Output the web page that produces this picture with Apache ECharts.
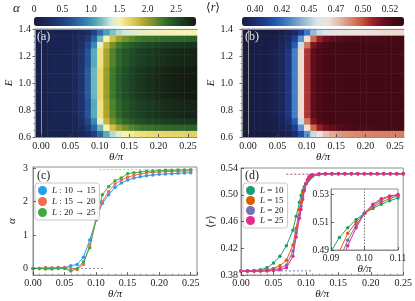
<!DOCTYPE html>
<html><head><meta charset="utf-8">
<script src="https://cdn.jsdelivr.net/npm/echarts@6/dist/echarts.min.js"></script>
<style>html,body{margin:0;padding:0;background:#fff}#c{width:415px;height:301px}</style>
</head><body><div id="c"></div>
<script>
const FONT = 'Liberation Serif, DejaVu Serif, serif';
const AX = '#8e8e8e', TXT = '#1a1a1a';

// ---------- heatmap grid ----------
const thetaCols = [0,0.01,0.02,0.03,0.04,0.05,0.06,0.07,0.08,0.09,0.10,0.11,0.12,0.13,0.14,0.15,0.16,0.17,0.18,0.19,0.20,0.21,0.22,0.23,0.24,0.25];
const energyRows = [0.624,0.671,0.718,0.765,0.812,0.859,0.906,0.953,1.000,1.047,1.094,1.141,1.188,1.235,1.282,1.329,1.376];

// alpha map row profiles (values along theta)
const alphaRowBottom = [0.06,0.10,0.11,0.12,0.12,0.13,0.15,0.20,0.30,0.50,0.80,1.10,1.30,1.42,1.50,1.55,1.60,1.62,1.64,1.65,1.66,1.67,1.68,1.68,1.70,1.70];
const alphaRowEdge   = [0.08,0.12,0.13,0.14,0.14,0.15,0.18,0.25,0.42,0.75,1.15,1.50,1.80,1.98,2.10,2.18,2.24,2.28,2.30,2.32,2.34,2.35,2.36,2.37,2.38,2.38];
const alphaRowNear   = [0.08,0.12,0.14,0.15,0.15,0.16,0.20,0.30,0.55,0.95,1.45,1.85,2.10,2.25,2.35,2.42,2.48,2.52,2.55,2.58,2.60,2.62,2.64,2.65,2.66,2.67];
const alphaRowInner  = [0.08,0.12,0.14,0.15,0.15,0.17,0.21,0.34,0.65,1.10,1.60,1.95,2.20,2.35,2.45,2.52,2.57,2.61,2.64,2.67,2.70,2.72,2.74,2.76,2.77,2.78];
const alphaRowCenter = [0.08,0.12,0.14,0.15,0.15,0.17,0.22,0.36,0.70,1.15,1.65,2.00,2.25,2.40,2.50,2.57,2.63,2.67,2.71,2.74,2.77,2.79,2.81,2.83,2.84,2.85];
const alphaRowTop    = [0.06,0.10,0.11,0.12,0.12,0.13,0.15,0.20,0.30,0.50,0.80,1.05,1.20,1.30,1.36,1.40,1.42,1.44,1.45,1.46,1.47,1.48,1.48,1.49,1.50,1.50];
const alphaRows = [alphaRowBottom, alphaRowEdge, alphaRowNear, alphaRowInner, alphaRowInner, alphaRowInner,
  alphaRowCenter, alphaRowCenter, alphaRowCenter, alphaRowCenter, alphaRowCenter,
  alphaRowInner, alphaRowInner, alphaRowInner, alphaRowNear, alphaRowEdge, alphaRowTop];

// <r> map row profiles
const rRowBottom = [0.386,0.387,0.387,0.388,0.388,0.389,0.390,0.393,0.400,0.415,0.435,0.455,0.468,0.476,0.481,0.484,0.486,0.487,0.488,0.489,0.489,0.490,0.490,0.490,0.490,0.490];
const rRowEdge   = [0.387,0.388,0.388,0.389,0.389,0.390,0.392,0.397,0.410,0.435,0.468,0.495,0.510,0.518,0.522,0.525,0.527,0.528,0.528,0.529,0.529,0.529,0.530,0.530,0.530,0.530];
const rRowNear   = [0.387,0.388,0.389,0.389,0.390,0.391,0.394,0.401,0.420,0.455,0.492,0.515,0.525,0.529,0.530,0.531,0.531,0.531,0.531,0.531,0.531,0.531,0.531,0.531,0.531,0.531];
const rRowMid    = [0.387,0.388,0.389,0.389,0.390,0.392,0.396,0.405,0.430,0.470,0.505,0.522,0.528,0.530,0.531,0.531,0.531,0.531,0.531,0.531,0.531,0.531,0.531,0.531,0.531,0.531];
const rRowTop    = [0.386,0.387,0.387,0.388,0.388,0.389,0.390,0.392,0.397,0.410,0.428,0.445,0.455,0.460,0.463,0.465,0.466,0.467,0.468,0.468,0.469,0.469,0.470,0.470,0.470,0.470];
const rRows = [rRowBottom, rRowEdge, rRowNear, rRowMid, rRowMid, rRowMid, rRowMid, rRowMid, rRowMid,
  rRowMid, rRowMid, rRowMid, rRowMid, rRowMid, rRowNear, rRowEdge, rRowTop];

// colour maps
const alphaColors = ['#151c40','#182452','#1c2e66','#203a7c','#244a92','#2a62a4','#3380b0','#46a0b8','#7cc2c4','#cfe9e0',
  '#fbf2b0','#ecd970','#d0bf46','#a8a42e','#789228','#3f7a2a','#275e2a','#1d4624','#18301c','#131a10'];
const rColors = ['#181c43','#1b2a66','#1c3b8c','#1f56b0','#3a78c2','#6c9ecd','#a8c4dc','#dde5ec','#efe2dc','#e6b8a6',
  '#d98a6e','#c95b40','#a02428','#6e0e1e','#4a0a16','#330710'];

// ---------- panel (c) ----------
const thetaC = [0,0.01,0.02,0.03,0.04,0.05,0.06,0.07,0.08,0.09,0.10,0.11,0.12,0.13,0.14,0.15,0.16,0.17,0.18,0.19,0.20,0.21,0.22,0.23,0.24,0.25];
const alphaL10to15 = [0.00,0.00,0.00,0.00,0.02,0.02,0.08,0.12,0.33,0.85,1.45,1.95,2.20,2.42,2.55,2.64,2.70,2.74,2.77,2.79,2.81,2.82,2.83,2.84,2.85,2.86];
const alphaL15to20 = [0.00,0.00,0.03,0.02,0.03,0.03,0.00,-0.03,0.12,0.70,1.45,2.00,2.30,2.52,2.64,2.72,2.78,2.82,2.85,2.87,2.88,2.89,2.90,2.90,2.91,2.91];
const alphaL20to25 = [0.00,0.00,-0.02,-0.02,0.00,0.00,-0.08,0.00,0.20,0.62,1.45,2.20,2.45,2.62,2.70,2.83,2.86,2.88,2.90,2.91,2.92,2.93,2.93,2.94,2.94,2.95];
const cNames = ['L : 10 → 15','L : 15 → 20','L : 20 → 25'];
const cColors = ['#2a9cf0','#f26d4f','#43a843'];
const cRefLow = [[0,0],[0.11,0]];
const cRefHigh = [[0.105,2.95],[0.26,2.95]];

// ---------- panel (d) ----------
const thetaD = [0,0.01,0.02,0.03,0.04,0.05,0.06,0.07,0.08,0.085,0.09,0.0925,0.095,0.0975,0.10,0.1025,0.105,0.1075,0.11,
  0.12,0.13,0.14,0.15,0.16,0.17,0.18,0.19,0.20,0.21,0.22,0.23,0.24,0.25];
const rL10 = [0.386,0.386,0.387,0.388,0.391,0.398,0.408,0.424,0.447,0.468,0.489,0.499,0.506,0.512,0.5165,0.520,0.523,0.5255,0.5275,
  0.530,0.531,0.531,0.5315,0.5315,0.5315,0.5315,0.5315,0.5315,0.5315,0.5315,0.5315,0.5315,0.5315];
const rL15 = [0.386,0.386,0.386,0.387,0.388,0.390,0.394,0.402,0.425,0.450,0.478,0.489,0.502,0.510,0.5165,0.521,0.5245,0.527,0.529,
  0.531,0.5315,0.5315,0.5315,0.5315,0.5315,0.5315,0.5315,0.5315,0.5315,0.5315,0.5315,0.5315,0.5315];
const rL20 = [0.386,0.386,0.386,0.386,0.387,0.388,0.390,0.395,0.416,0.443,0.470,0.483,0.497,0.508,0.5165,0.522,0.526,0.5285,0.5295,
  0.531,0.5315,0.5315,0.5315,0.5315,0.5315,0.5315,0.5315,0.5315,0.5315,0.5315,0.5315,0.5315,0.5315];
const rL25 = [0.386,0.386,0.386,0.386,0.386,0.387,0.388,0.391,0.408,0.437,0.465,0.478,0.493,0.506,0.5165,0.523,0.527,0.529,0.530,
  0.531,0.5315,0.5315,0.5315,0.5315,0.5315,0.5315,0.5315,0.5315,0.5315,0.5315,0.5315,0.5315,0.5315];
const dNames = ['L = 10','L = 15','L = 20','L = 25'];
const dColors = ['#1b9e77','#d95f02','#7570b3','#e7298a'];
const dRefLow = [[0,0.3863],[0.11,0.3863]];
const dRefHigh = [[0.07,0.5307],[0.25,0.5307]];
const insetMarkTheta = 0.10;

// ---------- ticks ----------
const thetaTickVals = [0,0.05,0.10,0.15,0.20,0.25];
const thetaTickLabels = ['0.00','0.05','0.10','0.15','0.20','0.25'];
const energyTickVals = [0.6,0.8,1.0,1.2,1.4];
const energyTickLabels = ['0.6','0.8','1.0','1.2','1.4'];
const alphaBarTickVals = [0,0.5,1.0,1.5,2.0,2.5];
const alphaBarTickLabels = ['0','0.5','1.0','1.5','2.0','2.5'];
const rBarTickVals = [0.40,0.425,0.45,0.475,0.50,0.525];
const rBarTickLabels = ['0.40','0.42','0.45','0.47','0.50','0.52'];
const alphaCTickVals = [0,1,2,3];
const alphaCTickLabels = ['0','1','2','3'];
const rDTickVals = [0.38,0.42,0.46,0.50,0.54];
const rDTickLabels = ['0.38','0.42','0.46','0.50','0.54'];
const insetXTickVals = [0.09,0.10,0.11];
const insetXTickLabels = ['0.09','0.10','0.11'];
const insetYTickVals = [0.49,0.51,0.53];
const insetYTickLabels = ['0.49','0.51','0.53'];

function lab(vals, labels) {
  return v => { const i = vals.findIndex(t => Math.abs(t - v) < 1e-6); return i >= 0 ? labels[i] : ''; };
}
function merge(a, b) {
  const o = Object.assign({}, a);
  for (const k in b) {
    if (b[k] && typeof b[k] === 'object' && !Array.isArray(b[k]) && typeof b[k] !== 'function' && a[k] && typeof a[k] === 'object') o[k] = merge(a[k], b[k]);
    else o[k] = b[k];
  }
  return o;
}
const baseVal = {
  type: 'value', splitLine: {show: false}, z: 5,
  axisLine: {show: true, onZero: false, lineStyle: {color: AX, width: 1}},
  axisTick: {show: true, inside: true, length: 3, lineStyle: {color: '#444', width: 0.8}},
  minorTick: {show: false},
  axisLabel: {fontFamily: FONT, fontSize: 10, color: TXT, margin: 3},
  nameLocation: 'middle',
  nameTextStyle: {fontFamily: FONT, fontSize: 11, fontStyle: 'italic', color: TXT}
};
function vAxis(o) { return merge(baseVal, o); }
function custom(vals, labels, extra) {
  return {axisLabel: Object.assign({customValues: vals, formatter: lab(vals, labels)}, extra || {}), axisTick: {customValues: vals}};
}
function catAxis(grid, pos, data) {
  return {type: 'category', gridIndex: grid, position: pos, data: data.map(String), z: 5,
    axisLabel: {show: false}, axisTick: {show: false}, splitLine: {show: false},
    axisLine: {show: true, lineStyle: {color: AX, width: 1}}};
}

function heatData(rows) {
  const out = [];
  rows.forEach((row, j) => row.forEach((v, i) => out.push([i, j, v])));
  return out;
}
function lineSeries(name, xs, ys, color, ax, size) {
  return {type: 'line', name, xAxisIndex: ax, yAxisIndex: ax, data: xs.map((t, i) => [t, ys[i]]),
    symbol: 'circle', symbolSize: size, showAllSymbol: true, clip: true,
    lineStyle: {width: 1, color}, itemStyle: {color}, emphasis: {disabled: true}, z: 3};
}
function refSeries(name, pts, color, ax) {
  return {type: 'line', name, xAxisIndex: ax, yAxisIndex: ax, data: pts, symbol: 'none', silent: true,
    lineStyle: {width: 1, color, type: [2, 2]}, z: 2};
}

const series = [
  {type: 'heatmap', name: 'alphaMap', xAxisIndex: 2, yAxisIndex: 2, data: heatData(alphaRows), progressive: 0, emphasis: {disabled: true}},
  {type: 'heatmap', name: 'rMap', xAxisIndex: 4, yAxisIndex: 4, data: heatData(rRows), progressive: 0, emphasis: {disabled: true}},
  lineSeries(cNames[0], thetaC, alphaL10to15, cColors[0], 6, 3.5),
  lineSeries(cNames[1], thetaC, alphaL15to20, cColors[1], 6, 3.5),
  lineSeries(cNames[2], thetaC, alphaL20to25, cColors[2], 6, 3.5),
  refSeries('cLow', cRefLow, '#7d8bb8', 6),
  refSeries('cHigh', cRefHigh, '#8fd08f', 6),
  lineSeries(dNames[0], thetaD, rL10, dColors[0], 7, 3.5),
  lineSeries(dNames[1], thetaD, rL15, dColors[1], 7, 3.5),
  lineSeries(dNames[2], thetaD, rL20, dColors[2], 7, 3.5),
  lineSeries(dNames[3], thetaD, rL25, dColors[3], 7, 3.5),
  refSeries('dLow', dRefLow, '#7f7fc8', 7),
  refSeries('dHigh', dRefHigh, '#9a4a72', 7),
  lineSeries(dNames[0], thetaD, rL10, dColors[0], 8, 3.5),
  lineSeries(dNames[1], thetaD, rL15, dColors[1], 8, 3.5),
  lineSeries(dNames[2], thetaD, rL20, dColors[2], 8, 3.5),
  lineSeries(dNames[3], thetaD, rL25, dColors[3], 8, 3.5)
];
series[13].markLine = {symbol: ['none', 'none'], silent: true, label: {show: false},
  lineStyle: {type: [1.5, 1.5], color: '#777', width: 1}, data: [{xAxis: insetMarkTheta}]};

const titleStyle = (c, s) => ({fontFamily: FONT, fontSize: s || 11, fontWeight: 'normal', color: c || TXT});
const legendText = {fontFamily: FONT, fontSize: 9, color: TXT, rich: {i: {fontFamily: FONT, fontSize: 9, fontStyle: 'italic', color: TXT}}};

const option = {
  animation: false,
  textStyle: {fontFamily: FONT},
  title: [
    {text: 'α', left: 13, top: 2, padding: 0, textStyle: Object.assign(titleStyle(TXT, 13), {fontStyle: 'italic'})},
    {text: '⟨{i|r}⟩', left: 206, top: 2, padding: 0, textStyle: Object.assign(titleStyle(TXT, 12), {rich: {i: {fontFamily: FONT, fontSize: 12, fontStyle: 'italic', color: TXT}}})},
    {text: '(a)', left: 37, top: 31, padding: 0, textStyle: titleStyle('#e6e6e6', 12)},
    {text: '(b)', left: 245, top: 31, padding: 0, textStyle: titleStyle('#e6e6e6', 12)},
    {text: '(c)', left: 37, top: 170, padding: 0, textStyle: titleStyle(TXT, 12)},
    {text: '(d)', left: 245, top: 170, padding: 0, textStyle: titleStyle(TXT, 12)}
  ],
  grid: [
    {left: 34, top: 17, width: 162, height: 9},
    {left: 242, top: 17, width: 162, height: 9},
    {left: 35, top: 29, width: 162, height: 108},
    {left: 242, top: 29, width: 162, height: 108},
    {left: 33, top: 167, width: 164, height: 111, show: true, borderColor: AX, borderWidth: 1, backgroundColor: 'transparent'},
    {left: 241, top: 168, width: 163, height: 110, show: true, borderColor: AX, borderWidth: 1, backgroundColor: 'transparent'},
    {left: 331, top: 189, width: 67, height: 61, show: true, borderColor: AX, borderWidth: 1, backgroundColor: '#fff'}
  ],
  visualMap: [
    {type: 'continuous', seriesIndex: 0, min: 0, max: 2.85, orient: 'horizontal', left: 34, top: 17,
      itemWidth: 9, itemHeight: 162, padding: 0, calculable: false, hoverLink: false, inRange: {color: alphaColors}},
    {type: 'continuous', seriesIndex: 1, min: 0.388, max: 0.538, orient: 'horizontal', left: 242, top: 17,
      itemWidth: 9, itemHeight: 162, padding: 0, calculable: false, hoverLink: false, inRange: {color: rColors}}
  ],
  xAxis: [
    vAxis(merge({gridIndex: 0, position: 'top', min: 0, max: 2.85, axisLine: {show: false}, axisTick: {show: false}},
      custom(alphaBarTickVals, alphaBarTickLabels, {margin: 3, fontSize: 9.5}))),
    vAxis(merge({gridIndex: 1, position: 'top', min: 0.388, max: 0.538, axisLine: {show: false}, axisTick: {show: false}},
      custom(rBarTickVals, rBarTickLabels, {margin: 3, fontSize: 9.5}))),
    catAxis(2, 'top', thetaCols),
    vAxis(merge({gridIndex: 2, position: 'bottom', min: -0.0102, max: 0.2653, name: 'θ/π', nameGap: 13},
      custom(thetaTickVals, thetaTickLabels, {margin: 4}))),
    catAxis(3, 'top', thetaCols),
    vAxis(merge({gridIndex: 3, position: 'bottom', min: -0.0102, max: 0.2653, name: 'θ/π', nameGap: 13},
      custom(thetaTickVals, thetaTickLabels, {margin: 4}))),
    vAxis(merge({gridIndex: 4, position: 'bottom', min: 0, max: 0.26, interval: 0.05, name: 'θ/π', nameGap: 11,
      minorTick: {show: true, splitNumber: 5, length: 1.5, lineStyle: {color: '#666', width: 0.6}},
      axisLabel: {formatter: lab(thetaTickVals, thetaTickLabels), margin: 3}})),
    vAxis(merge({gridIndex: 5, position: 'bottom', min: 0, max: 0.25, interval: 0.05, name: 'θ/π', nameGap: 11,
      minorTick: {show: true, splitNumber: 5, length: 1.5, lineStyle: {color: '#666', width: 0.6}},
      axisLabel: {formatter: lab(thetaTickVals, thetaTickLabels), margin: 3}})),
    vAxis(merge({gridIndex: 6, position: 'bottom', min: 0.09, max: 0.11, name: 'θ/π', nameGap: 13},
      custom(insetXTickVals, insetXTickLabels, {margin: 3, fontSize: 9.5})))
  ],
  yAxis: [
    {type: 'value', gridIndex: 0, min: 0, max: 1, show: false},
    {type: 'value', gridIndex: 1, min: 0, max: 1, show: false},
    catAxis(2, 'right', energyRows),
    vAxis({gridIndex: 2, position: 'left', min: 0.6, max: 1.4, interval: 0.2, name: 'E', nameGap: 19,
      axisTick: {inside: false, length: 2.5},
      minorTick: {show: true, splitNumber: 4, length: 1.5, lineStyle: {color: '#555', width: 0.6}},
      axisLabel: {formatter: lab(energyTickVals, energyTickLabels), margin: 4}}),
    catAxis(3, 'right', energyRows),
    vAxis({gridIndex: 3, position: 'left', min: 0.6, max: 1.4, interval: 0.2, name: 'E', nameGap: 25,
      axisTick: {inside: false, length: 2.5},
      minorTick: {show: true, splitNumber: 4, length: 1.5, lineStyle: {color: '#555', width: 0.6}},
      axisLabel: {formatter: lab(energyTickVals, energyTickLabels), margin: 9}}),
    vAxis(merge({gridIndex: 4, position: 'left', min: -0.2, max: 3.03, name: 'α', nameGap: 15},
      custom(alphaCTickVals, alphaCTickLabels, {margin: 5}))),
    vAxis(merge({gridIndex: 5, position: 'left', min: 0.38, max: 0.54, name: '⟨{i|r}⟩', nameGap: 23,
      nameTextStyle: {fontStyle: 'normal', rich: {i: {fontFamily: FONT, fontSize: 11, fontStyle: 'italic', color: TXT}}}},
      custom(rDTickVals, rDTickLabels, {margin: 3}))),
    vAxis(merge({gridIndex: 6, position: 'left', min: 0.49, max: 0.534},
      custom(insetYTickVals, insetYTickLabels, {margin: 2, fontSize: 9.5})))
  ],
  legend: [
    {data: cNames, orient: 'vertical', left: 35, top: 183, icon: 'circle', itemWidth: 9, itemHeight: 9, itemGap: 2,
      padding: [3, 4, 3, 3], borderColor: '#c8c8c8', borderWidth: 1, borderRadius: 3, backgroundColor: 'rgba(255,255,255,0.9)',
      textStyle: legendText, formatter: n => '{i|L}' + n.slice(1), selectedMode: false},
    {data: dNames, orient: 'vertical', left: 243, top: 183, icon: 'circle', itemWidth: 9, itemHeight: 9, itemGap: 1,
      padding: [3, 4, 3, 3], borderColor: '#c8c8c8', borderWidth: 1, borderRadius: 3, backgroundColor: 'rgba(255,255,255,0.9)',
      textStyle: legendText, formatter: n => '{i|L}' + n.slice(1), selectedMode: false}
  ],
  series
};
const chart = echarts.init(document.getElementById('c'), null, {renderer: 'canvas'});
chart.setOption(option);
</script></body></html>
